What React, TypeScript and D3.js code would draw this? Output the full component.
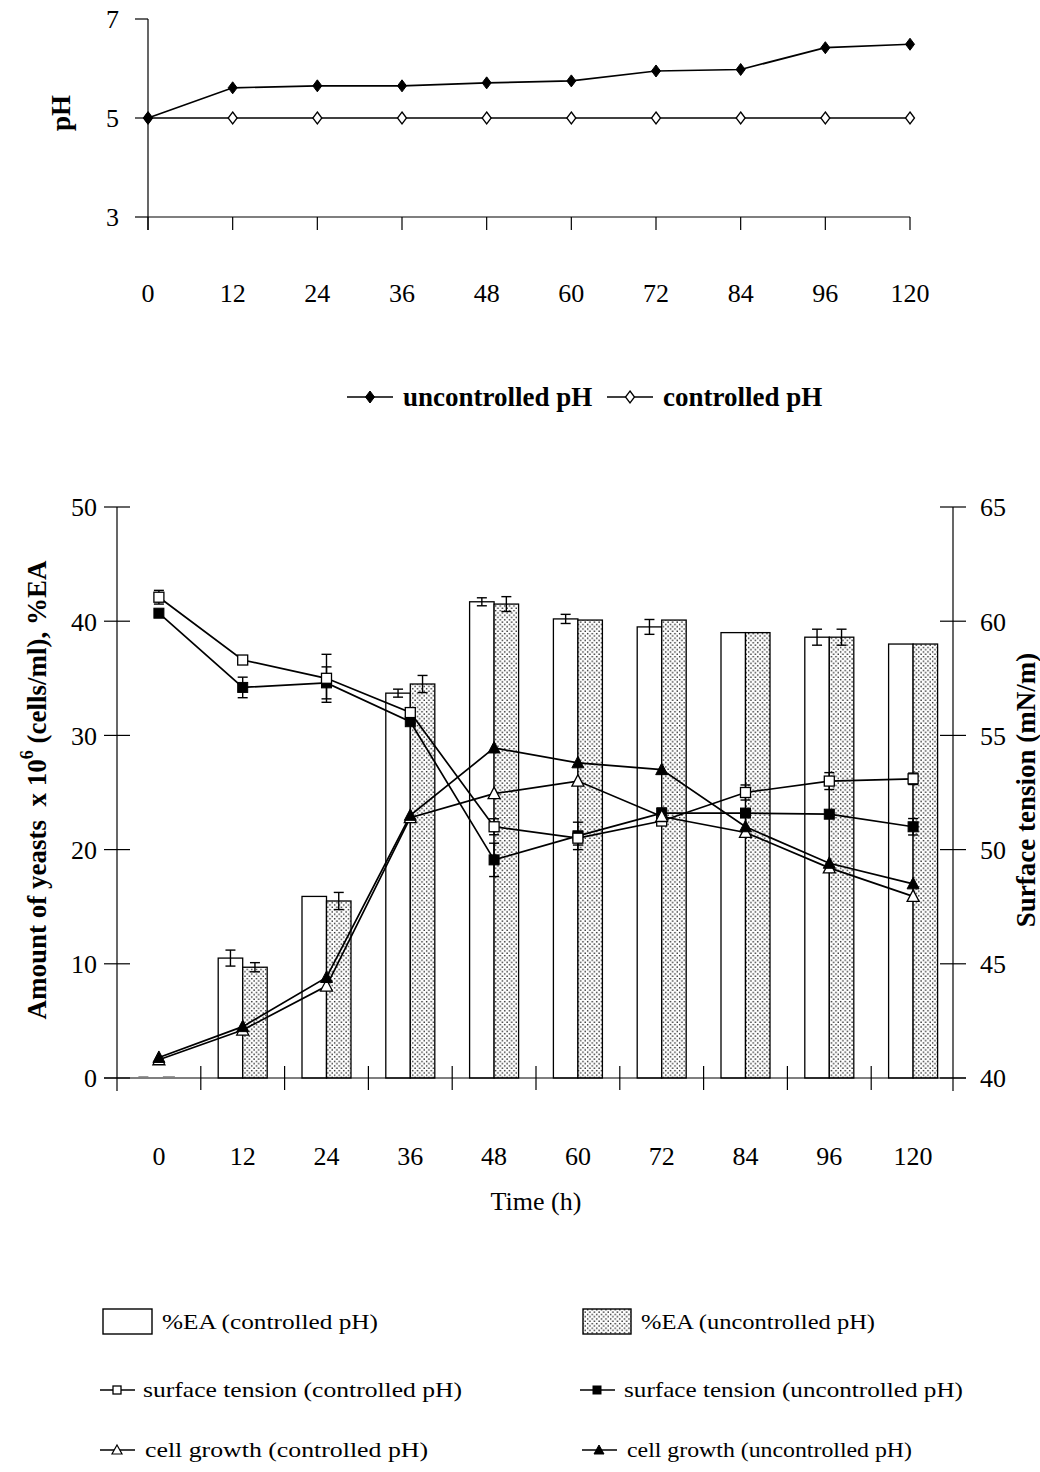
import React from 'react';
import * as d3 from 'd3';

const categories = ['0', '12', '24', '36', '48', '60', '72', '84', '96', '120'];

// top chart
const phUncontrolled = [5.0, 5.61, 5.65, 5.65, 5.71, 5.75, 5.95, 5.98, 6.42, 6.49];
const phControlled = [5, 5, 5, 5, 5, 5, 5, 5, 5, 5];
const phTicks = [3, 5, 7];

// bottom chart - bars (%EA)
const eaControlled = [0, 10.5, 15.9, 33.7, 41.7, 40.2, 39.5, 39.0, 38.6, 38.0];
const eaControlledErr = [0, 0.7, 0, 0.35, 0.35, 0.4, 0.65, 0, 0.7, 0];
const eaUncontrolled = [0, 9.7, 15.5, 34.5, 41.5, 40.1, 40.1, 39.0, 38.6, 38.0];
const eaUncontrolledErr = [0, 0.4, 0.75, 0.75, 0.65, 0, 0, 0, 0.7, 0];

// surface tension (right axis)
const stControlled = [61.05, 58.3, 57.5, 56.0, 51.0, 50.5, 51.25, 52.5, 53.0, 53.1];
const stControlledErr = [0.3, 0, 1.05, 0, 0.35, 0.3, 0, 0.33, 0.37, 0.25];
const stUncontrolled = [60.35, 57.1, 57.3, 55.6, 49.55, 50.6, 51.6, 51.6, 51.55, 51.0];
const stUncontrolledErr = [0, 0.45, 0.7, 0, 0.73, 0.6, 0.22, 0, 0, 0.36];

// cell growth (left axis)
const cgControlled = [1.6, 4.2, 8.05, 22.8, 24.9, 26.0, 22.9, 21.5, 18.4, 15.9];
const cgUncontrolled = [1.8, 4.5, 8.8, 23.0, 28.9, 27.6, 27.0, 22.0, 18.8, 17.0];

const leftTicks = [0, 10, 20, 30, 40, 50];
const rightTicks = [40, 45, 50, 55, 60, 65];

const FONT = '"Liberation Serif", "Times New Roman", serif';

const diamond = 'M0,-6 L4.5,0 L0,6 L-4.5,0 Z';
const triangle = 'M0,-6.5 L6,5 L-6,5 Z';

function ErrBar({ x, y0, y1, cap = 5 }: { x: number; y0: number; y1: number; cap?: number }) {
  return (
    <g stroke="#000" strokeWidth={1.4}>
      <line x1={x} x2={x} y1={y0} y2={y1} />
      <line x1={x - cap} x2={x + cap} y1={y0} y2={y0} />
      <line x1={x - cap} x2={x + cap} y1={y1} y2={y1} />
    </g>
  );
}

export default function App() {
  const W = 1040;
  const H = 1472;

  // top chart scales
  const xTop = d3.scalePoint<string>().domain(categories).range([148, 910]);
  const yTop = d3.scaleLinear().domain([3, 7]).range([217, 19]);
  const lineTop = d3
    .line<number>()
    .x((_, i) => xTop(categories[i])!)
    .y((d) => yTop(d));

  // bottom chart scales
  const xB = d3.scaleBand<string>().domain(categories).range([117, 955]);
  const bw = xB.bandwidth();
  const xSub = d3.scaleBand<string>().domain(['c', 'u']).range([bw / 2 - 24.5, bw / 2 + 24.5]);
  const yL = d3.scaleLinear().domain([0, 50]).range([1078, 507]);
  const yR = d3.scaleLinear().domain([40, 65]).range([1078, 507]);
  const cx = (c: string) => xB(c)! + bw / 2;
  const lineR = d3
    .line<number>()
    .x((_, i) => cx(categories[i]))
    .y((d) => yR(d));
  const lineL = d3
    .line<number>()
    .x((_, i) => cx(categories[i]))
    .y((d) => yL(d));

  const bandEdges = categories.map((c) => xB(c)!).concat([955]);

  return (
    <svg
      width={W}
      height={H}
      viewBox={`0 0 ${W} ${H}`}
      style={{ position: 'absolute', left: 0, top: 0, display: 'block', background: '#fff' }}
      fontFamily={FONT}
    >
      <defs>
        <pattern id="dots" width={4.6} height={4.6} patternUnits="userSpaceOnUse">
          <rect width={4.6} height={4.6} fill="#fff" />
          <rect x={0.4} y={0.4} width={1.4} height={1.4} fill="#222" />
          <rect x={2.7} y={2.7} width={1.4} height={1.4} fill="#222" />
        </pattern>
      </defs>
      <rect width={W} height={H} fill="#fff" />

      {/* ================= TOP CHART ================= */}
      <g>
        {/* y axis */}
        <line x1={148} x2={148} y1={yTop(7)} y2={230} stroke="#000" strokeWidth={1.2} />
        {phTicks.map((t) => (
          <g key={t}>
            <line x1={135} x2={148} y1={yTop(t)} y2={yTop(t)} stroke="#000" strokeWidth={1.2} />
            <text x={119} y={yTop(t)} dy="0.36em" textAnchor="end" fontSize={26}>
              {t}
            </text>
          </g>
        ))}
        {/* x axis */}
        <line x1={148} x2={910} y1={yTop(3)} y2={yTop(3)} stroke="#000" strokeWidth={1.2} />
        {categories.map((c) => (
          <g key={c}>
            <line x1={xTop(c)} x2={xTop(c)} y1={yTop(3)} y2={230} stroke="#000" strokeWidth={1.2} />
            <text x={xTop(c)} y={302} textAnchor="middle" fontSize={26}>
              {c}
            </text>
          </g>
        ))}
        <text transform="translate(70,113) rotate(-90)" textAnchor="middle" fontSize={27} fontWeight="bold">
          pH
        </text>
        {/* lines */}
        <path d={lineTop(phControlled)!} fill="none" stroke="#000" strokeWidth={1.7} />
        <path d={lineTop(phUncontrolled)!} fill="none" stroke="#000" strokeWidth={1.7} />
        {phControlled.map((v, i) => (
          <path
            key={'pc' + i}
            d={diamond}
            transform={`translate(${xTop(categories[i])},${yTop(v)})`}
            fill="#fff"
            stroke="#000"
            strokeWidth={1.3}
          />
        ))}
        {phUncontrolled.map((v, i) => (
          <path
            key={'pu' + i}
            d={diamond}
            transform={`translate(${xTop(categories[i])},${yTop(v)})`}
            fill="#000"
            stroke="#000"
            strokeWidth={1}
          />
        ))}
        {/* top legend */}
        <line x1={347} x2={393} y1={397} y2={397} stroke="#000" strokeWidth={1.7} />
        <path d={diamond} transform="translate(370,397)" fill="#000" stroke="#000" />
        <text x={403} y={406} fontSize={27} fontWeight="bold">
          uncontrolled pH
        </text>
        <line x1={607} x2={653} y1={397} y2={397} stroke="#000" strokeWidth={1.7} />
        <path d={diamond} transform="translate(630,397)" fill="#fff" stroke="#000" strokeWidth={1.3} />
        <text x={663} y={406} fontSize={27} fontWeight="bold">
          controlled pH
        </text>
      </g>

      {/* ================= BOTTOM CHART ================= */}
      <g>
        {/* bars */}
        {categories.map((c, i) => {
          const x0 = xB(c)!;
          const xc = x0 + xSub('c')!;
          const xu = x0 + xSub('u')!;
          const w = xSub.bandwidth();
          return (
            <g key={'bar' + c}>
              {eaControlled[i] > 0 && (
                <rect
                  x={xc}
                  y={yL(eaControlled[i])}
                  width={w}
                  height={yL(0) - yL(eaControlled[i])}
                  fill="#fff"
                  stroke="#000"
                  strokeWidth={1.3}
                />
              )}
              {eaUncontrolled[i] > 0 && (
                <rect
                  x={xu}
                  y={yL(eaUncontrolled[i])}
                  width={w}
                  height={yL(0) - yL(eaUncontrolled[i])}
                  fill="url(#dots)"
                  stroke="#000"
                  strokeWidth={1.3}
                />
              )}
              {eaControlledErr[i] > 0 && (
                <ErrBar
                  x={xc + w / 2}
                  y0={yL(eaControlled[i] - eaControlledErr[i])}
                  y1={yL(eaControlled[i] + eaControlledErr[i])}
                />
              )}
              {eaUncontrolledErr[i] > 0 && (
                <ErrBar
                  x={xu + w / 2}
                  y0={yL(eaUncontrolled[i] - eaUncontrolledErr[i])}
                  y1={yL(eaUncontrolled[i] + eaUncontrolledErr[i])}
                />
              )}
            </g>
          );
        })}
        {/* zero bars at time 0 */}
        <line
          x1={xB('0')! + xSub('c')! + 4}
          x2={xB('0')! + xSub('c')! + 14}
          y1={1076.5}
          y2={1076.5}
          stroke="#999"
          strokeWidth={1}
        />
        <line
          x1={xB('0')! + xSub('u')! + 4}
          x2={xB('0')! + xSub('u')! + 16}
          y1={1076.5}
          y2={1076.5}
          stroke="#999"
          strokeWidth={1}
        />

        {/* axes */}
        <line x1={117} x2={117} y1={507} y2={1091} stroke="#000" strokeWidth={1.2} />
        {leftTicks.map((t) => (
          <g key={'lt' + t}>
            <line x1={104} x2={130} y1={yL(t)} y2={yL(t)} stroke="#000" strokeWidth={1.2} />
            <text x={97} y={yL(t)} dy="0.36em" textAnchor="end" fontSize={26}>
              {t}
            </text>
          </g>
        ))}
        <line x1={953} x2={953} y1={507} y2={1091} stroke="#000" strokeWidth={1.2} />
        {rightTicks.map((t) => (
          <g key={'rt' + t}>
            <line x1={940} x2={966} y1={yR(t)} y2={yR(t)} stroke="#000" strokeWidth={1.2} />
            <text x={980} y={yR(t)} dy="0.36em" textAnchor="start" fontSize={26}>
              {t}
            </text>
          </g>
        ))}
        <line x1={104} x2={966} y1={1078} y2={1078} stroke="#000" strokeWidth={1.2} />
        {bandEdges.slice(1, 10).map((x, i) => (
          <line key={'xt' + i} x1={x} x2={x} y1={1066} y2={1090} stroke="#000" strokeWidth={1.2} />
        ))}
        {categories.map((c) => (
          <text key={'xl' + c} x={cx(c)} y={1165} textAnchor="middle" fontSize={26}>
            {c}
          </text>
        ))}
        <text x={536} y={1210} textAnchor="middle" fontSize={26}>
          Time (h)
        </text>
        <text transform="translate(46,790) rotate(-90)" textAnchor="middle" fontSize={27} fontWeight="bold">
          {'Amount of yeasts\u00a0 x 10'}
          <tspan dy={-13} fontSize={18}>
            6
          </tspan>
          <tspan dy={13}>{'\u00a0(cells/ml), %EA'}</tspan>
        </text>
        <text transform="translate(1035,790) rotate(-90)" textAnchor="middle" fontSize={27} fontWeight="bold">
          Surface tension (mN/m)
        </text>

        {/* lines */}
        <path d={lineR(stControlled)!} fill="none" stroke="#000" strokeWidth={1.7} />
        <path d={lineR(stUncontrolled)!} fill="none" stroke="#000" strokeWidth={1.7} />
        <path d={lineL(cgControlled)!} fill="none" stroke="#000" strokeWidth={1.7} />
        <path d={lineL(cgUncontrolled)!} fill="none" stroke="#000" strokeWidth={1.7} />

        {/* surface tension error bars */}
        {stControlled.map((v, i) =>
          stControlledErr[i] > 0 ? (
            <ErrBar
              key={'sce' + i}
              x={cx(categories[i])}
              y0={yR(v - stControlledErr[i])}
              y1={yR(v + stControlledErr[i])}
            />
          ) : null
        )}
        {stUncontrolled.map((v, i) =>
          stUncontrolledErr[i] > 0 ? (
            <ErrBar
              key={'sue' + i}
              x={cx(categories[i])}
              y0={yR(v - stUncontrolledErr[i])}
              y1={yR(v + stUncontrolledErr[i])}
            />
          ) : null
        )}

        {/* markers */}
        {stUncontrolled.map((v, i) => (
          <rect
            key={'sum' + i}
            x={cx(categories[i]) - 5}
            y={yR(v) - 5}
            width={10}
            height={10}
            fill="#000"
            stroke="#000"
          />
        ))}
        {stControlled.map((v, i) => (
          <rect
            key={'scm' + i}
            x={cx(categories[i]) - 5}
            y={yR(v) - 5}
            width={10}
            height={10}
            fill="#fff"
            stroke="#000"
            strokeWidth={1.3}
          />
        ))}
        {cgControlled.map((v, i) => (
          <path
            key={'cgc' + i}
            d={triangle}
            transform={`translate(${cx(categories[i])},${yL(v)})`}
            fill="#fff"
            stroke="#000"
            strokeWidth={1.3}
          />
        ))}
        {cgUncontrolled.map((v, i) => (
          <path
            key={'cgu' + i}
            d={triangle}
            transform={`translate(${cx(categories[i])},${yL(v)})`}
            fill="#000"
            stroke="#000"
            strokeWidth={1}
          />
        ))}
      </g>

      {/* ================= BOTTOM LEGEND ================= */}
      <g fontSize={21}>
        <rect x={103} y={1309} width={49} height={25} fill="#fff" stroke="#000" strokeWidth={1.4} />
        <text x={162} y={1329} textLength={216} lengthAdjust="spacingAndGlyphs">
          %EA (controlled pH)
        </text>
        <rect x={583} y={1309} width={48} height={25} fill="url(#dots)" stroke="#000" strokeWidth={1.4} />
        <text x={641} y={1329} textLength={234} lengthAdjust="spacingAndGlyphs">
          %EA (uncontrolled pH)
        </text>

        <line x1={100} x2={135} y1={1390} y2={1390} stroke="#000" strokeWidth={1.6} />
        <rect x={113} y={1386} width={8} height={8} fill="#fff" stroke="#000" strokeWidth={1.3} />
        <text x={143} y={1397} textLength={319} lengthAdjust="spacingAndGlyphs">
          surface tension (controlled pH)
        </text>
        <line x1={580} x2={615} y1={1390} y2={1390} stroke="#000" strokeWidth={1.6} />
        <rect x={593} y={1386} width={8} height={8} fill="#000" stroke="#000" />
        <text x={624} y={1397} textLength={339} lengthAdjust="spacingAndGlyphs">
          surface tension (uncontrolled pH)
        </text>

        <line x1={100} x2={135} y1={1450} y2={1450} stroke="#000" strokeWidth={1.6} />
        <path d="M0,-5 L5,4 L-5,4 Z" transform="translate(117,1450)" fill="#fff" stroke="#000" strokeWidth={1.2} />
        <text x={145} y={1457} textLength={283} lengthAdjust="spacingAndGlyphs">
          cell growth (controlled pH)
        </text>
        <line x1={582} x2={617} y1={1450} y2={1450} stroke="#000" strokeWidth={1.6} />
        <path d="M0,-5 L5,4 L-5,4 Z" transform="translate(599,1450)" fill="#000" stroke="#000" />
        <text x={627} y={1457} textLength={285} lengthAdjust="spacingAndGlyphs">
          cell growth (uncontrolled pH)
        </text>
      </g>
    </svg>
  );
}
